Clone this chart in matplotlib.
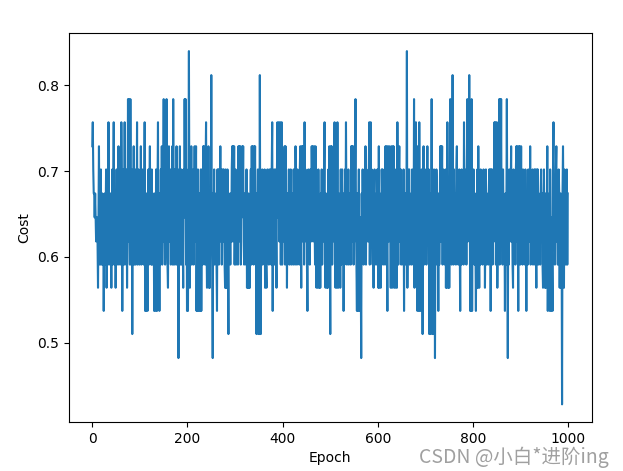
import numpy as np
import matplotlib.pyplot as plt

# discrete cost levels seen on the chart (index 0..F)
levels = [0.428, 0.455, 0.482, 0.510, 0.537, 0.564, 0.591, 0.618,
          0.646, 0.674, 0.702, 0.729, 0.757, 0.784, 0.812, 0.840]

# cost per epoch, one hex digit = one level index, 10 epochs per string
cost_codes = [
  "BCA9989878", "8758B768A6", "796847968A", "5796C78697", "58A69C7685",
  "7A698B67A8", "6C948A76C7", "96A58D7D96", "D86A397B68", "A697C68A76",
  "97B68A7968", "C4849647A6", "9B786A6978", "4964A749C6", "8496A7B689",
  "D796A8D765", "9B78A697B6", "D86A796B86", "A297B68A69", "75A8D9D6A4",
  "749F85A7B6", "97A68B79B4", "84A64974A4", "8A6B7B96AC", "75A6B58597",
  "E86297A687", "964A7A6A8B", "7A69A7A865", "A595A63978", "697AB7B8B6",
  "8A69786B9B", "7B6A8B9B76", "9786A58595", "758A6B7B86", "B9B76397A3",
  "83E6397A68", "97A58659A7", "86A97A6AC4", "97A68A75AC", "8AC79C6AC6",
  "978AB6B895", "978A697A68", "796A876B97", "6A8796AB85", "B7B9B6C8A7",
  "9648A796A8", "7B9B7AB86B", "85965A7585", "97A6987AC6", "597585A6B7",
  "3B8B6A798C", "65A75C6597", "85A69A7948", "6A7C8697A6", "8976B8B7B6",
  "97AD864947", "A4486297A8", "6978B6A798", "7AC69C8A76", "859A68796A",
  "75B59857A9", "A68796B8B7", "4B97B8A5B6", "5B7B59A586", "5C869B79A6",
  "8796A48796", "8F597AA687", "96A876D597", "C8A4B64C74", "48A739B68A",
  "7968B79A38", "397D3639A7", "286A978496", "8B7B9B6A87", "96A585C759",
  "58D7A69E86", "A7986AB796", "8A7496A879", "6C8A796AD7", "A8E9484D49",
  "7A8697485A", "5B7596A879", "68A7958A69", "7869A8A4A9", "A6987C8C69",
  "C5879D6D8D", "796A878496", "8D7296A879", "B7965A8796", "AB7B94B8B6",
  "8B796A8796", "A84976A897", "B6879A687A", "6A75A8A697", "869A79658A",
  "759587B486", "94A74864AC", "7968AB7968", "A95895809B", "85A7968A69",
]

cost = [levels[int(c, 16)] for c in "".join(cost_codes)]
epochs = np.arange(len(cost))

fig = plt.figure(figsize=(6.23, 4.71), dpi=100)
ax = fig.add_axes([0.110, 0.104, 0.8395, 0.825])
ax.plot(epochs, cost)
ax.set_xlabel("Epoch")
ax.set_ylabel("Cost")

# watermark (sits over the tick labels like in the original)
fig.text(0.977, 0.030, "CSDN @小白*进阶ing", ha="right", va="center",
         fontsize=14, color="#a0a0a0",
         family=["Noto Sans CJK SC", "DejaVu Sans"])

fig.savefig("out.png")
